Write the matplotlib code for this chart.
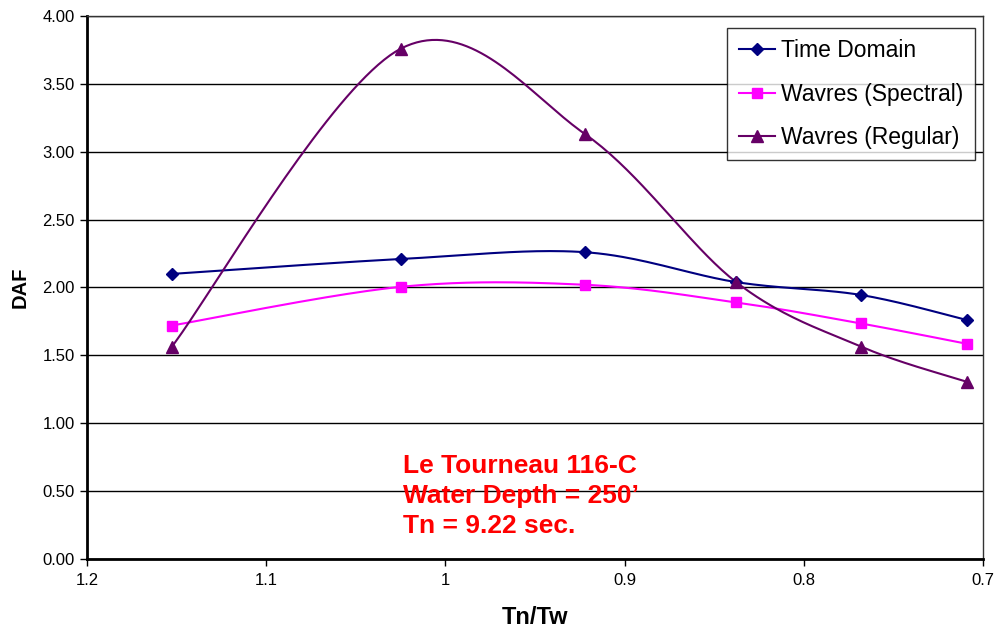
import numpy as np
import matplotlib
matplotlib.use('Agg')
import matplotlib.pyplot as plt

plt.rcParams['font.family'] = ['Liberation Sans', 'DejaVu Sans']

# data
tn_tw = [1.1526, 1.0248, 0.9221, 0.8378, 0.7681, 0.7089]
time_domain = [2.10, 2.21, 2.26, 2.04, 1.945, 1.76]
wavres_spectral = [1.72, 2.005, 2.02, 1.89, 1.735, 1.585]
wavres_regular = [1.565, 3.76, 3.13, 2.04, 1.565, 1.305]
yticks = [0, 0.5, 1, 1.5, 2, 2.5, 3, 3.5, 4]
xticks = [1.2, 1.1, 1.0, 0.9, 0.8, 0.7]


def smooth(x, y, n=40):
    # Excel-like smoothed line: cubic Bezier through points
    x = np.asarray(x, float)
    y = np.asarray(y, float)
    xs, ys = [x[0]], [y[0]]
    for i in range(len(x) - 1):
        p0 = np.array([x[i], y[i]])
        p3 = np.array([x[i + 1], y[i + 1]])
        pm = np.array([x[i - 1], y[i - 1]]) if i > 0 else p0
        pp = np.array([x[i + 2], y[i + 2]]) if i + 2 < len(x) else p3
        c1 = p0 + (p3 - pm) / 6.0
        c2 = p3 - (pp - p0) / 6.0
        t = np.linspace(0, 1, n)[1:, None]
        b = ((1 - t) ** 3) * p0 + 3 * ((1 - t) ** 2) * t * c1 + 3 * (1 - t) * t ** 2 * c2 + t ** 3 * p3
        xs.extend(b[:, 0])
        ys.extend(b[:, 1])
    return xs, ys


fig = plt.figure(figsize=(10, 6.32), dpi=100)
ax = fig.add_axes([0.087, 0.1155, 0.896, 0.8592])

series = [
    ('Time Domain', time_domain, '#000080', 'D', 6),
    ('Wavres (Spectral)', wavres_spectral, '#FF00FF', 's', 7),
    ('Wavres (Regular)', wavres_regular, '#660066', '^', 8),
]
handles = []
for name, vals, col, mk, ms in series:
    sx, sy = smooth(tn_tw, vals)
    ax.plot(sx, sy, color=col, lw=1.5, zorder=3)
    ax.plot(tn_tw, vals, ls='none', marker=mk, ms=ms, color=col, zorder=4)
    h, = ax.plot([], [], color=col, lw=1.5, marker=mk, ms=ms)
    h.set_label(name)
    handles.append(h)

ax.set_xlim(1.2, 0.7)
ax.set_ylim(0, 4)
ax.set_xticks(xticks)
ax.set_xticklabels(['1.2', '1.1', '1', '0.9', '0.8', '0.7'])
ax.set_yticks(yticks)
ax.set_yticklabels(['%.2f' % v for v in yticks])
ax.tick_params(labelsize=12, length=5, width=1, direction='out', pad=4)
ax.tick_params(axis='x', pad=5)
ax.grid(axis='y', color='black', lw=1)
ax.set_axisbelow(True)
for s in ['left', 'bottom']:
    ax.spines[s].set_linewidth(2)
for s in ['top', 'right']:
    ax.spines[s].set_linewidth(1)
    ax.spines[s].set_color('#333333')

ax.set_xlabel('Tn/Tw', fontsize=17, fontweight='bold', labelpad=13)
ax.set_ylabel('DAF', fontsize=14.5, fontweight='bold', labelpad=9)

leg = ax.legend(handles=handles, loc='upper right', bbox_to_anchor=(0.991, 0.978),
                fontsize=16.5, frameon=True, fancybox=False, handlelength=1.6,
                handletextpad=0.25, labelspacing=0.88, borderpad=0.5, borderaxespad=0)
leg.get_frame().set_edgecolor('black')
leg.get_frame().set_linewidth(1)

ax.text(1.0237, 0.775, 'Le Tourneau 116-C\nWater Depth = 250\u2019\nTn = 9.22 sec.',
        color='red', fontsize=19, fontweight='bold', va='top', ha='left', linespacing=1.32)

fig.savefig('out.png', dpi=100)
